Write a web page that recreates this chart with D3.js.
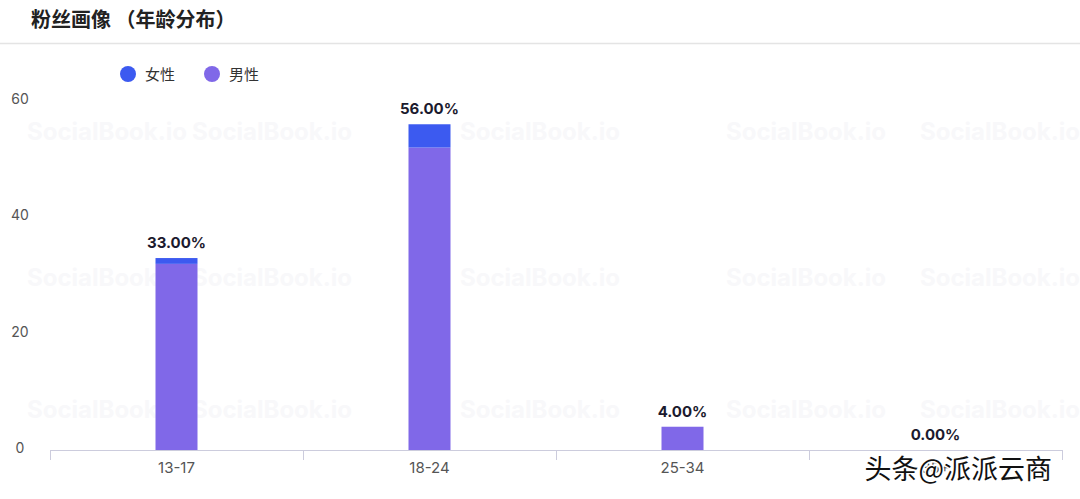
<!DOCTYPE html>
<html>
<head>
<meta charset="utf-8">
<script src="https://cdn.jsdelivr.net/npm/d3@7"></script>
<style>
  body { margin: 0; background: #fff; }
  svg { display: block; font-family: "Noto Sans CJK SC", "Noto Sans", sans-serif; }
</style>
</head>
<body>
<svg id="chart"></svg>
<script>
// data
const ageGroups = ["13-17", "18-24", "25-34", "35+"];
const femaleValues = [1.0, 4.0, 0, 0];
const maleValues = [32.0, 52.0, 4.0, 0];
const totalLabels = ["33.00%", "56.00%", "4.00%", "0.00%"];
const yTicks = [0, 20, 40, 60];
const seriesNames = ["女性", "男性"];
const colors = ["#3c5af0", "#8068e8"];

const width = 1080, height = 499;
const marginLeft = 50, marginRight = 18, marginTop = 101, marginBottom = 49;

const svg = d3.select("#chart")
  .attr("width", width)
  .attr("height", height)
  .attr("viewBox", [0, 0, width, height]);

// title + header rule
svg.append("text").attr("x", 31).attr("y", 27).text("粉丝画像 （年龄分布）")
  .style("font-size", "20px").style("font-weight", "bold").style("fill", "#222");
svg.append("line").attr("x1", 0).attr("x2", width).attr("y1", 43.5).attr("y2", 43.5)
  .style("stroke", "#e4e4e4").style("stroke-width", 1.5);

// faint watermark grid (kept clear of the axis labels)
const wmX = [107, 272, 540, 806, 1000];
const wmY = [132, 278, 410];
wmY.forEach(y => wmX.forEach(x => {
  svg.append("text").attr("x", x).attr("y", y).attr("dy", "0.35em").attr("text-anchor", "middle")
    .text("SocialBook.io")
    .style("font-family", "Inter, sans-serif").style("font-weight", "bold")
    .style("font-size", "24px").style("fill", "#f8f8fa");
}));

const x = d3.scaleBand()
  .domain(ageGroups)
  .range([marginLeft, width - marginRight]);

const y = d3.scaleLinear()
  .domain([0, 60])
  .range([height - marginBottom, marginTop]);

// y axis (labels only)
svg.append("g")
  .attr("transform", `translate(20,-2)`)
  .call(d3.axisLeft(y).tickValues(yTicks).tickSize(0).tickPadding(0))
  .call(g => g.select(".domain").remove())
  .call(g => g.selectAll("text").attr("text-anchor", "middle")
    .style("font-family", "Inter, sans-serif").style("font-size", "14px").style("fill", "#555"));

// x axis
svg.append("g")
  .attr("transform", `translate(0,${height - marginBottom})`)
  .call(d3.axisBottom(x).tickSize(0).tickPadding(12))
  .call(g => g.select(".domain").attr("d", `M${marginLeft},0.5H${width - marginRight}`).style("stroke", "#ccd"))
  .call(g => g.selectAll("text").style("font-family", "Inter, sans-serif").style("font-size", "15px").style("fill", "#555"));

// category separators
svg.append("g").selectAll("line")
  .data(ageGroups.concat(["end"]))
  .join("line")
  .attr("x1", (d, i) => marginLeft + i * x.step() + 0.5)
  .attr("x2", (d, i) => marginLeft + i * x.step() + 0.5)
  .attr("y1", height - marginBottom)
  .attr("y2", height - marginBottom + 10)
  .style("stroke", "#ccd");

// stacked bars
const barW = 42;
const table = ageGroups.map((a, i) => ({ age: a, female: femaleValues[i], male: maleValues[i], label: totalLabels[i] }));
const stack = d3.stack().keys(["male", "female"])(table);
const keyColor = { male: colors[1], female: colors[0] };

svg.append("g").selectAll("g")
  .data(stack)
  .join("g")
  .style("fill", d => keyColor[d.key])
  .selectAll("rect")
  .data(d => d)
  .join("rect")
  .attr("x", d => x(d.data.age) + x.bandwidth() / 2 - barW / 2)
  .attr("y", d => y(d[1]))
  .attr("width", barW)
  .attr("height", d => y(d[0]) - y(d[1]));

// total labels
svg.append("g").selectAll("text")
  .data(table)
  .join("text")
  .attr("x", d => x(d.age) + x.bandwidth() / 2)
  .attr("y", d => y(d.female + d.male) - 10)
  .attr("text-anchor", "middle")
  .text(d => d.label)
  .style("font-family", "Inter, sans-serif").style("font-weight", "bold")
  .style("font-size", "15px").style("fill", "#1b1a2e");

// legend
seriesNames.forEach((n, i) => {
  svg.append("circle").attr("cx", 128 + i * 84).attr("cy", 74).attr("r", 8).style("fill", colors[i]);
  svg.append("text").attr("x", 145 + i * 84).attr("y", 80).text(n)
    .style("font-size", "15px").style("fill", "#333");
});

// source watermark bottom right (covers the last tick label, as in the source image)
svg.append("text").attr("x", 1052).attr("y", 479).attr("text-anchor", "end")
  .text("头条@派派云商")
  .style("font-size", "27px").style("fill", "#111")
  .style("stroke", "#fff").style("stroke-width", 3).style("paint-order", "stroke");
</script>
</body>
</html>
